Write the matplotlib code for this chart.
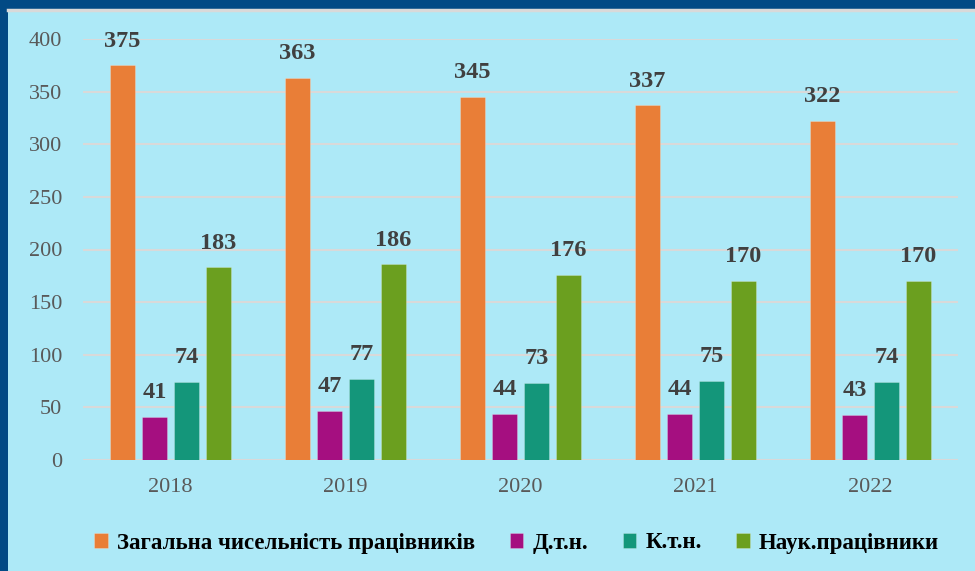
import numpy as np
import matplotlib.pyplot as plt
from matplotlib.patches import Rectangle

years = ['2018', '2019', '2020', '2021', '2022']
total = [375, 363, 345, 337, 322]
dtn = [41, 47, 44, 44, 43]
ktn = [74, 77, 73, 75, 74]
nauk = [183, 186, 176, 170, 170]

series = [
    ('Загальна чисельність працівників', total, '#E97E37'),
    ('Д.т.н.', dtn, '#A50F80'),
    ('К.т.н.', ktn, '#14967A'),
    ('Наук.працівники', nauk, '#6B9F1F'),
]

plt.rcParams['font.family'] = ['Liberation Serif', 'DejaVu Serif']

fig = plt.figure(figsize=(9.75, 5.71), dpi=100)
fig.patch.set_facecolor('#024A85')
# light panel behind the chart
bg = fig.add_axes([0, 0, 1, 1], zorder=-10)
bg.axis('off')
bg.set_xlim(0, 1)
bg.set_ylim(0, 1)
bg.add_patch(Rectangle((8 / 975, 0), 1, 1 - 9 / 571, facecolor='#ADE9F7', edgecolor='none'))
bg.axhline(1 - 10 / 571, xmin=8 / 975, color='#D9D9D9', lw=2.5)

ax = fig.add_axes([83 / 975, 1 - 460 / 571, 875 / 975, 421 / 571])
ax.set_facecolor('none')

x = np.arange(len(years))
width = 0.145
step = 0.183
offsets = (np.arange(4) - 1.5) * step

for (name, vals, col), off in zip(series, offsets):
    bars = ax.bar(x + off, vals, width, color=col, label=name, zorder=3,
                  edgecolor='#ffffff55', linewidth=0.5)
    for b, v in zip(bars, vals):
        ax.text(b.get_x() + b.get_width() / 2, v + 13, str(v), ha='center', va='bottom',
                fontsize=17.5, fontweight='bold', color='#404040')

ax.set_xlim(-0.5, 4.5)
ax.set_ylim(0, 400)
ax.set_yticks(range(0, 401, 50))
ax.set_xticks(x)
ax.set_xticklabels(years)
ax.tick_params(axis='both', length=0, labelsize=16, labelcolor='#595959')
ax.tick_params(axis='x', pad=13)
ax.tick_params(axis='y', pad=15)
ax.grid(axis='y', color='#D9D9D9', lw=1.5, zorder=0)
for s in ax.spines.values():
    s.set_visible(False)

fig.legend(loc='center', bbox_to_anchor=(0.53, 1 - 543 / 571), ncol=4, frameon=False,
           prop={'size': 16.5, 'weight': 'bold'}, handlelength=0.6, handleheight=0.6,
           handletextpad=0.4, columnspacing=1.5)

fig.savefig('out.png', dpi=100, facecolor=fig.get_facecolor())
